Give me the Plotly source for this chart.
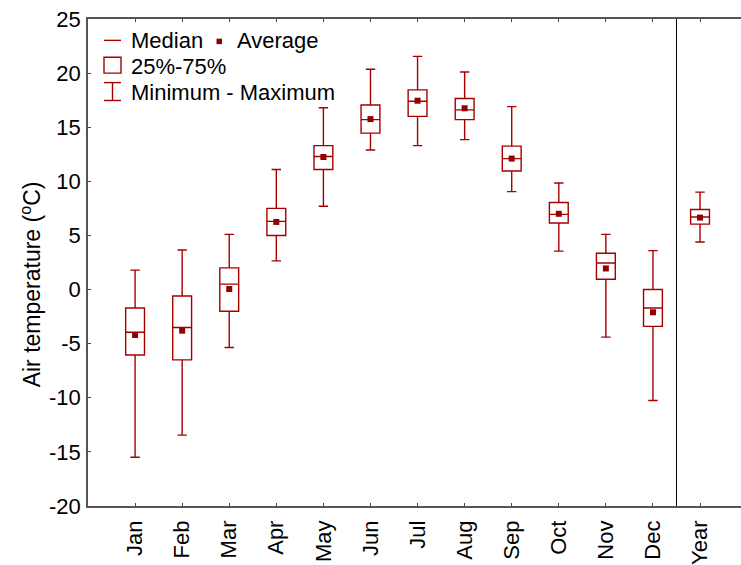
import plotly.graph_objects as go

# Monthly and annual air temperature statistics (°C)
categories = ["Jan", "Feb", "Mar", "Apr", "May", "Jun", "Jul", "Aug", "Sep", "Oct", "Nov", "Dec", "Year"]
t_min = [-15.5, -13.45, -5.35, 2.65, 7.7, 12.9, 13.3, 13.85, 9.05, 3.55, -4.4, -10.25, 4.4]
t_q1 = [-6.05, -6.5, -2.0, 5.0, 11.1, 14.45, 16.0, 15.7, 10.95, 6.15, 0.95, -3.4, 6.05]
t_median = [-3.95, -3.5, 0.5, 6.3, 12.3, 15.7, 17.4, 16.6, 12.1, 6.95, 2.45, -1.7, 6.7]
t_q3 = [-1.7, -0.6, 2.0, 7.5, 13.3, 17.05, 18.45, 17.65, 13.25, 8.05, 3.35, 0.0, 7.4]
t_max = [1.8, 3.65, 5.1, 11.1, 16.8, 20.35, 21.55, 20.1, 16.9, 9.85, 5.1, 3.6, 9.0]
t_mean = [-4.2, -3.8, 0.05, 6.25, 12.25, 15.75, 17.45, 16.75, 12.1, 7.0, 1.95, -2.1, 6.65]

y_ticks = [25, 20, 15, 10, 5, 0, -5, -10, -15, -20]

positions = list(range(len(categories)))

LINE = "#a50000"
MARK = "#930000"
FONT = "Liberation Sans, Arial, sans-serif"
FS = 22

fig = go.Figure()

fig.add_trace(go.Box(
    x=positions,
    q1=t_q1,
    median=t_median,
    q3=t_q3,
    lowerfence=t_min,
    upperfence=t_max,
    width=0.40,
    whiskerwidth=0.5,
    line=dict(color=LINE, width=1.4),
    fillcolor="rgba(255,255,255,0)",
    boxpoints=False,
    showlegend=False,
    hoverinfo="skip",
))

fig.add_trace(go.Scatter(
    x=positions,
    y=t_mean,
    mode="markers",
    marker=dict(symbol="square", size=6, color=MARK, line=dict(width=0)),
    showlegend=False,
    hoverinfo="skip",
))

# plot area in pixels
L, R, T, B = 88, 741, 19, 509
W_FIG, H_FIG = 741, 565


def px(x):
    return (x - L) / (R - L)


def py(y):
    return (B - y) / (B - T)


shapes = [
    # separator between months and the annual box
    dict(type="line", xref="x", yref="paper", x0=11.5, x1=11.5, y0=0, y1=1,
         line=dict(color="black", width=1)),
    # legend: median line
    dict(type="line", xref="paper", yref="paper", x0=px(104), x1=px(121), y0=py(40.5), y1=py(40.5),
         line=dict(color=LINE, width=1.4)),
    # legend: average square
    dict(type="rect", xref="paper", yref="paper", x0=px(216.5), x1=px(222), y0=py(38.8), y1=py(44.3),
         fillcolor=MARK, line=dict(width=0)),
    # legend: interquartile box
    dict(type="rect", xref="paper", yref="paper", x0=px(104), x1=px(121), y0=py(57.5), y1=py(73.5),
         line=dict(color=LINE, width=1.4), fillcolor="rgba(0,0,0,0)"),
    # legend: whisker
    dict(type="line", xref="paper", yref="paper", x0=px(112.5), x1=px(112.5), y0=py(83), y1=py(101),
         line=dict(color=LINE, width=1.4)),
    dict(type="line", xref="paper", yref="paper", x0=px(104), x1=px(121), y0=py(83), y1=py(83),
         line=dict(color=LINE, width=1.4)),
    dict(type="line", xref="paper", yref="paper", x0=px(104), x1=px(121), y0=py(101), y1=py(101),
         line=dict(color=LINE, width=1.4)),
]

legend_text = [
    ("Median", 129, 41),
    ("Average", 235, 41),
    ("25%-75%", 129, 67),
    ("Minimum - Maximum", 129, 93),
]
annotations = [
    dict(text=t, xref="paper", yref="paper", x=px(x), y=py(y), xanchor="left", yanchor="middle",
         showarrow=False, font=dict(family=FONT, size=FS, color="black"))
    for t, x, y in legend_text
]

# y-axis title
annotations.append(dict(
    text="Air temperature (<sup>o</sup>C)", xref="paper", yref="paper",
    x=px(31), y=py(286), xanchor="center", yanchor="middle", textangle=-90,
    showarrow=False, font=dict(family=FONT, size=23, color="black"),
))

fig.update_layout(
    width=W_FIG,
    height=H_FIG,
    margin=dict(l=L, r=W_FIG - R, t=T, b=H_FIG - B, pad=0),
    paper_bgcolor="white",
    plot_bgcolor="white",
    font=dict(family=FONT, size=FS, color="black"),
    shapes=shapes,
    annotations=annotations,
    showlegend=False,
)

fig.update_xaxes(
    range=[-1, 12.87],
    tickmode="array",
    tickvals=positions,
    ticktext=categories,
    tickangle=-90,
    ticks="inside",
    ticklen=3,
    tickcolor="#444",
    showline=True,
    linecolor="#555",
    linewidth=1.5,
    mirror="ticks",
    showgrid=False,
    zeroline=False,
    ticklabelstandoff=4,
    tickfont=dict(family=FONT, size=FS, color="black"),
)

fig.update_yaxes(
    range=[-20, 25],
    tickmode="array",
    tickvals=y_ticks,
    ticktext=[str(v) for v in y_ticks],
    ticks="inside",
    ticklen=3,
    tickcolor="#444",
    showline=True,
    linecolor="#555",
    linewidth=1.5,
    showgrid=False,
    zeroline=False,
    ticklabelstandoff=1,
    tickfont=dict(family=FONT, size=FS, color="black"),
)

fig.write_html("out.html")
